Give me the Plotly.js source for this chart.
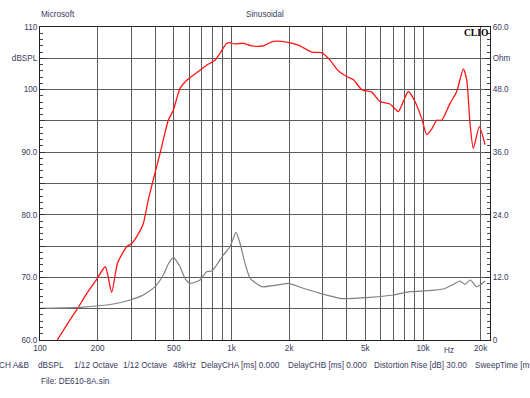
<!DOCTYPE html>
<html>
<head>
<meta charset="utf-8">
<script src="https://cdn.plot.ly/plotly-3.0.1.min.js"></script>
<style>html,body{margin:0;padding:0;background:#fff;}#chart{width:530px;height:398px;}</style>
</head>
<body>
<div id="chart"></div>
<script>
// SPL response (red, left axis, dBSPL)
const splFreq = [123,143.4,155.4,175.3,197.7,219.3,236.8,254,283.6,301.2,319.9,346.3,367.7,390.5,423.4,467.7,496.7,538.4,583.6,684.6,742.1,820,871,944,982,1042,1152,1275,1466,1653,1943,2233,2623,2958,3268,3612,3996,4325,4786,5397,5964,6726,7430,7890,8380,9082,9844,10455,11100,11790,12520,13840,15000,16240,16920,17600,18310,19680,21080];
const splDb = [60.0,63.2,64.8,67.4,69.7,71.7,67.6,72.3,74.9,75.4,76.5,78.6,82.4,85.6,89.8,95.1,96.7,100.2,101.5,103.1,103.9,104.7,105.8,107.4,107.5,107.3,107.4,107.0,107.0,107.7,107.6,107.1,106.0,105.9,104.7,103.0,102.1,101.6,100.0,99.6,98.1,97.7,96.5,98.1,99.7,98.1,95.4,92.8,93.7,95.1,95.1,97.8,99.7,103.3,101.5,94.6,90.6,94.1,91.2];

// Impedance (gray, right axis, Ohm)
const impFreq = [100,161.8,241.4,295.1,346.3,398.6,440.5,467.7,496.7,538.4,571.8,607.3,684.6,742,788,837,906.3,982.2,1055.6,1107.7,1176.5,1249.6,1295,1440,1653,1980,2371,2898,3687,5082,6998,8554,10455,12760,14390,15600,16570,17700,18920,19720,21080];
const impOhm = [6.08,6.27,6.90,7.67,8.63,10.22,12.46,14.57,15.78,14.05,11.83,10.87,11.5,13.09,13.23,14.38,16.29,17.88,20.65,18.54,14.7,11.83,11.3,10.22,10.41,10.87,9.91,8.95,7.99,8.11,8.63,9.26,9.45,9.78,10.64,11.31,10.68,11.5,10.26,10.45,11.31];

// Axis ticks / labels
const xTickVals = [100,200,300,400,500,600,700,800,900,1000,2000,3000,4000,5000,6000,7000,8000,9000,10000,20000];
const xTickText = ['100','200','','','500','','','','','1k','2k','','','5k','','','','','10k','20k'];
const yTickVals = [60,65,70,75,80,85,90,95,100,105,110];
const yTickText = ['60.0','','70.0','','80.0','','90.0','','100','dBSPL','110'];
const y2TickVals = [0,12,24,36,48,54,60];
const y2TickText = ['0','12.0','24.0','36.0','48.0','Ohm','60.0'];

const topLeftText = 'Microsoft';
const topCenterText = 'Sinusoidal';
const brandText = 'CLIO';
const unitText = 'Hz';
const infoTexts = ['CH A&amp;B','dBSPL','1/12 Octave','1/12 Octave','48kHz','DelayCHA [ms] 0.000','DelayCHB [ms] 0.000','Distortion Rise [dB] 30.00','SweepTime [ms]'];
const infoPx = [-2,36.7,72.7,122,171.7,200,286.7,373,474];
const fileText = 'File: DE610-8A.sin';

const txtColor = '#3a3a5c';
const fnt = 'Liberation Sans, Arial, sans-serif';
const gridC = '#5c5c5c';

const L = 40, PW = 450, T = 27, PH = 313;
const px2paperX = p => (p - L) / PW;
const py2paperY = p => (T + PH - p) / PH;

const traces = [
  {x: impFreq, y: impOhm, yaxis: 'y2', type: 'scatter', mode: 'lines',
   line: {color: '#808080', width: 1.2, shape: 'spline', smoothing: 0.6}, hoverinfo: 'skip'},
  {x: splFreq, y: splDb, yaxis: 'y', type: 'scatter', mode: 'lines',
   line: {color: '#ff1414', width: 1.3, shape: 'spline', smoothing: 0.6}, hoverinfo: 'skip'}
];

const annotations = [
  {text: topLeftText, xref: 'paper', yref: 'paper', x: 0, y: py2paperY(15), xanchor: 'left', yanchor: 'middle', showarrow: false, borderpad: 0},
  {text: topCenterText, xref: 'paper', yref: 'paper', x: 0.5, y: py2paperY(15), xanchor: 'center', yanchor: 'middle', showarrow: false, borderpad: 0},
  {text: '<b>' + brandText + '</b>', xref: 'paper', yref: 'paper', x: px2paperX(489), y: py2paperY(33), xanchor: 'right', yanchor: 'middle', showarrow: false, borderpad: 0,
   font: {family: 'Liberation Serif, Times New Roman, serif', size: 9.5, color: '#000'}},
  {text: unitText, xref: 'x', yref: 'paper', x: Math.log10(13700), y: py2paperY(351), xanchor: 'center', yanchor: 'middle', showarrow: false, borderpad: 0},
  {text: fileText, xref: 'paper', yref: 'paper', x: 0, y: py2paperY(381), xanchor: 'left', yanchor: 'middle', showarrow: false, borderpad: 0}
];
infoTexts.forEach((t, i) => {
  annotations.push({text: t, xref: 'paper', yref: 'paper', x: px2paperX(infoPx[i]), y: py2paperY(365), xanchor: 'left', yanchor: 'middle', showarrow: false, borderpad: 0});
});

const layout = {
  width: 530, height: 398,
  margin: {l: L, r: 530 - L - PW, t: T, b: 398 - T - PH, pad: 0},
  paper_bgcolor: '#fff', plot_bgcolor: '#fff',
  showlegend: false,
  font: {family: fnt, size: 8.2, color: txtColor},
  xaxis: {
    type: 'log', range: [2, 2 + PW / 191.5],
    tickmode: 'array', tickvals: xTickVals, ticktext: xTickText,
    showgrid: true, gridcolor: gridC, gridwidth: 1,
    showline: true, linecolor: '#222', linewidth: 1, mirror: true,
    ticks: '', zeroline: false, fixedrange: true,
    tickfont: {family: fnt, size: 8.2, color: txtColor}
  },
  yaxis: {
    range: [60, 110],
    tickmode: 'array', tickvals: yTickVals, ticktext: yTickText,
    showgrid: true, gridcolor: gridC, gridwidth: 1,
    showline: true, linecolor: '#222', linewidth: 1, mirror: true,
    ticks: 'inside', ticklen: 5, tickcolor: '#333', tickwidth: 1,
    minor: {tickmode: 'linear', tick0: 60, dtick: 1, ticks: 'inside', ticklen: 3, tickcolor: '#444', tickwidth: 1, showgrid: false},
    zeroline: false, fixedrange: true,
    tickfont: {family: fnt, size: 8.2, color: txtColor}
  },
  yaxis2: {
    overlaying: 'y', side: 'right', range: [0, 60],
    tickmode: 'array', tickvals: y2TickVals, ticktext: y2TickText,
    showgrid: false,
    showline: true, linecolor: '#222', linewidth: 1,
    ticks: 'inside', ticklen: 5, tickcolor: '#333', tickwidth: 1,
    minor: {tickmode: 'linear', tick0: 0, dtick: 1.2, ticks: 'inside', ticklen: 3, tickcolor: '#444', tickwidth: 1, showgrid: false},
    zeroline: false, fixedrange: true,
    tickfont: {family: fnt, size: 8.2, color: txtColor}
  },
  annotations: annotations
};

Plotly.newPlot('chart', traces, layout, {staticPlot: true, displayModeBar: false});
</script>
</body>
</html>
